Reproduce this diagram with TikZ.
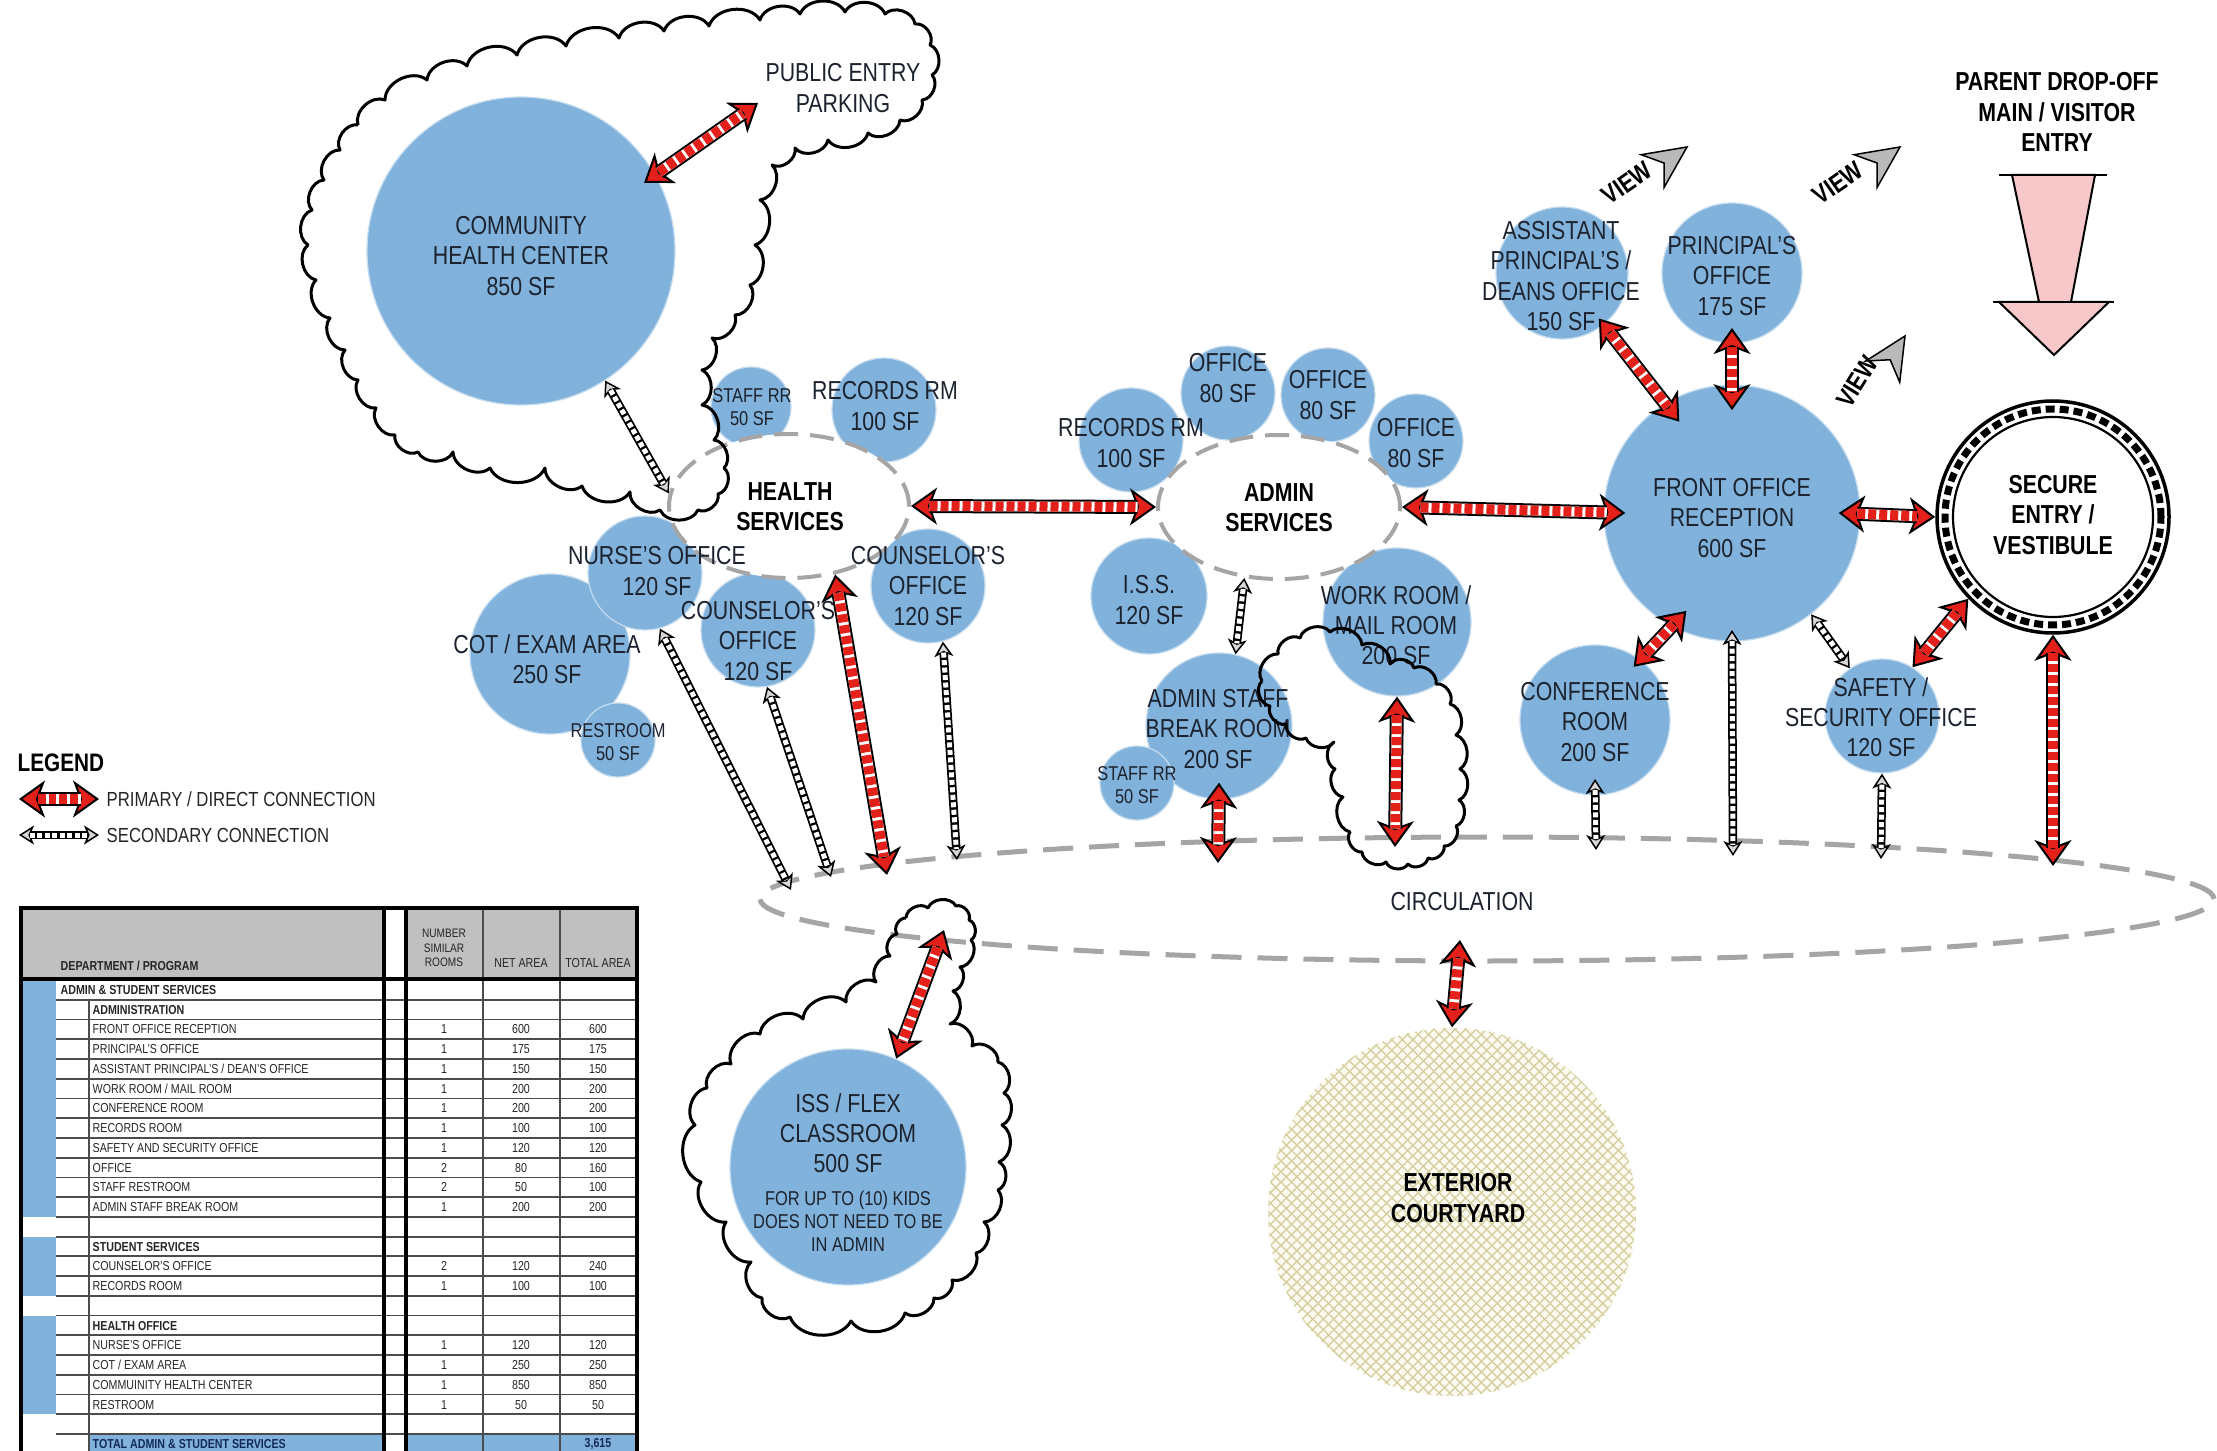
\documentclass[tikz,border=0pt]{standalone}
\usepackage{fontspec}
\setmainfont{Liberation Sans}[FakeStretch=0.82]
\usetikzlibrary{shapes.geometric,arrows.meta,patterns,calc}
\definecolor{cblue}{RGB}{128,178,220}
\definecolor{pred}{RGB}{228,32,26}
\definecolor{dgray}{RGB}{165,165,165}
\definecolor{tcol}{RGB}{28,34,46}
\definecolor{sgray}{RGB}{215,215,215}
\definecolor{hgray}{RGB}{192,192,192}
\definecolor{pinkf}{RGB}{246,200,202}
\definecolor{cream}{RGB}{252,251,242}
\definecolor{hatchc}{RGB}{214,207,160}
\definecolor{vgray}{RGB}{185,185,185}
\definecolor{navy}{RGB}{20,40,90}
\tikzset{
  ptip/.tip={Stealth[length=2.6mm,width=3.7mm,inset=0.7mm,fill=pred,line width=0.2mm]},
  stip/.tip={Stealth[length=1.5mm,width=1.9mm,inset=0.4mm,fill=sgray,line width=0.15mm]},
  room/.style={circle,fill=cblue,draw=white!55!cblue,line width=0.12mm,inner sep=0pt,minimum size=#1*0.2mm},
  lbl/.style={align=center,text=tcol,inner sep=0pt,font=\fontsize{7.4}{8.6}\selectfont},
  sml/.style={align=center,text=tcol,inner sep=0pt,font=\fontsize{5.7}{6.5}\selectfont},
  bld/.style={align=center,text=black,inner sep=0pt,font=\bfseries\fontsize{7.4}{8.6}\selectfont},
  zone/.style={ellipse,fill=white,draw=dgray,line width=0.4mm,dash pattern=on 2.4mm off 1.2mm,inner sep=0pt},
  cloudln/.style={draw=black,line width=0.3mm,line join=round},
  tcell/.style={inner sep=0pt,text=black!85,font=\fontsize{3.7}{4.1}\selectfont},
  tline/.style={draw=black!70,line width=0.18mm},
  tthick/.style={draw=black,line width=0.38mm},
}
\newcommand\pconn[2]{%
  \draw[black,line width=0.2mm,-ptip] ($#1!2.6mm!#2$) -- #1;
  \draw[black,line width=0.2mm,-ptip] ($#2!2.6mm!#1$) -- #2;
  \draw[black,line width=1.4mm,shorten <=1.85mm,shorten >=1.85mm] #1 -- #2;
  \draw[white,line width=1.0mm,shorten <=1.85mm,shorten >=1.85mm] #1 -- #2;
  \draw[pred,line width=1.0mm,dash pattern=on 0.8mm off 0.3mm,shorten <=1.85mm,shorten >=1.85mm] #1 -- #2;
}
\newcommand\sconn[2]{%
  \draw[black,line width=0.15mm,-stip] ($#1!1.5mm!#2$) -- #1;
  \draw[black,line width=0.15mm,-stip] ($#2!1.5mm!#1$) -- #2;
  \draw[black,line width=0.85mm,shorten <=1.1mm,shorten >=1.1mm] #1 -- #2;
  \draw[white,line width=0.5mm,dash pattern=on 0.5mm off 0.25mm,shorten <=1.1mm,shorten >=1.1mm] #1 -- #2;
}
\newcommand\trow[5]{%
  \node[tcell,anchor=west] (tr#1) at (92,{990+19.74*#1}) {#2};
  \node[tcell] (tn#1) at (444,{990+19.74*#1}) {#3};
  \node[tcell] (ta#1) at (521,{990+19.74*#1}) {#4};
  \node[tcell] (tt#1) at (598,{990+19.74*#1}) {#5};
}
\newcommand\viewarrow[3]{%
  \begin{scope}[shift={(#1,#2)},rotate=#3]
    \filldraw[fill=vgray,draw=black,line width=0.15mm] (0,0) -- (-42,-20) -- (-28,0) -- (-42,20) -- cycle;
  \end{scope}}
\begin{document}
\begin{tikzpicture}[x=0.1mm,y=-0.1mm]
\fill[white] (0,0) rectangle (2217,1451);
\useasboundingbox (0,0) rectangle (2217,1451);

% courtyard
\node[circle,minimum size=36.8mm,inner sep=0pt,fill=cream] (ct) at (1452,1212) {};
\fill[pattern=north east lines,pattern color=hatchc] (ct.center) circle[radius=18.4mm];
\fill[pattern=north west lines,pattern color=hatchc] (ct.center) circle[radius=18.4mm];

% rooms
\node[room=154] (chc) at (521,251) {};
\node[room=40] (hsrr) at (751,407) {};
\node[room=52] (hsrec) at (884,410) {};
\node[room=80] (cot) at (550,654) {};
\node[room=57] (nurse) at (645,573) {};
\node[room=37] (rest) at (618,740) {};
\node[room=57] (cns1) at (758,630) {};
\node[room=57] (cns2) at (928,586) {};
\node[room=52] (arec) at (1131,440) {};
\node[room=47] (off1) at (1228,393) {};
\node[room=47] (off2) at (1328,395) {};
\node[room=47] (off3) at (1416,441) {};
\node[room=58] (iss) at (1149,596) {};
\node[room=74] (wr) at (1397,622) {};
\node[room=73] (br) at (1219,726) {};
\node[room=37] (arr) at (1137,783) {};
\node[room=128] (fo) at (1732,513) {};
\node[room=70] (pr) at (1732,273) {};
\node[room=66] (ap) at (1562,273) {};
\node[room=75] (cr) at (1595,720) {};
\node[room=57] (ss) at (1882,716) {};
\node[room=118] (flex) at (848,1167) {};

% zones
\node[zone,minimum width=24.0mm,minimum height=14.4mm] (hs) at (789,506) {};
\node[zone,minimum width=24.2mm,minimum height=14.4mm] (as) at (1279,507) {};
\node[ellipse,draw=dgray,line width=0.5mm,dash pattern=on 3mm off 1.6mm,inner sep=0pt,minimum width=145.4mm,minimum height=12.4mm] (circ) at (1487,899) {};

% secure entry
\node[circle,fill=white,draw=black,line width=0.35mm,minimum size=23.2mm,inner sep=0pt] (se) at (2053,517) {};
\draw[black,line width=0.7mm,dash pattern=on 0.9mm off 0.5mm] (se.center) circle[radius=10.8mm];
\draw[black,line width=0.22mm] (se.center) circle[radius=10.0mm];

% labels
\node[lbl] (chct) at (521,256) {COMMUNITY\\HEALTH CENTER\\850 SF};
\node[lbl] (parkt) at (843,88) {PUBLIC ENTRY\\PARKING};
\node[sml] (hsrrt) at (752,407) {STAFF RR\\50 SF};
\node[lbl] (hsrect) at (885,406) {RECORDS RM\\100 SF};
\node[bld] (hst) at (790,507) {HEALTH\\SERVICES};
\node[lbl] (nurset) at (657,571) {NURSE'S OFFICE\\120 SF};
\node[lbl] (cott) at (547,659) {COT / EXAM AREA\\250 SF};
\node[sml] (restt) at (618,742) {RESTROOM\\50 SF};
\node[lbl] (cns1t) at (758,641) {COUNSELOR'S\\OFFICE\\120 SF};
\node[lbl] (cns2t) at (928,586) {COUNSELOR'S\\OFFICE\\120 SF};
\node[lbl] (arect) at (1131,443) {RECORDS RM\\100 SF};
\node[lbl] (off1t) at (1228,378) {OFFICE\\80 SF};
\node[lbl] (off2t) at (1328,395) {OFFICE\\80 SF};
\node[lbl] (off3t) at (1416,443) {OFFICE\\80 SF};
\node[bld] (ast) at (1279,508) {ADMIN\\SERVICES};
\node[lbl] (isst) at (1149,600) {I.S.S.\\120 SF};
\node[lbl] (wrt) at (1396,625) {WORK ROOM /\\MAIL ROOM\\200 SF};
\node[lbl] (brt) at (1218,729) {ADMIN STAFF\\BREAK ROOM\\200 SF};
\node[sml] (arrt) at (1137,785) {STAFF RR\\50 SF};
\node[lbl] (fot) at (1732,518) {FRONT OFFICE\\RECEPTION\\600 SF};
\node[lbl] (prt) at (1732,276) {PRINCIPAL'S\\OFFICE\\175 SF};
\node[lbl] (apt) at (1561,276) {ASSISTANT\\PRINCIPAL'S /\\DEANS OFFICE\\150 SF};
\node[lbl] (crt) at (1595,722) {CONFERENCE\\ROOM\\200 SF};
\node[lbl] (sst) at (1881,717) {SAFETY /\\SECURITY OFFICE\\120 SF};
\node[bld] (set) at (2053,515) {SECURE\\ENTRY /\\VESTIBULE};
\node[bld] (pdt) at (2057,112) {PARENT DROP-OFF\\MAIN / VISITOR\\ENTRY};
\node[lbl] (circt) at (1462,902) {CIRCULATION};
\node[bld] (ctt) at (1458,1198) {EXTERIOR\\COURTYARD};
\node[lbl] (flext) at (848,1133) {ISS / FLEX\\CLASSROOM\\500 SF};
\node[sml] (flexn) at (848,1221) {FOR UP TO (10) KIDS\\DOES NOT NEED TO BE\\IN ADMIN};

% clouds (scalloped outlines)
\draw[cloudln] (358,125) \foreach \px/\py in {385/100,427/80,467/66,517/55,566/46,619/38,664/31,709/26,760/20,800/14,845/12,885/14,915/24,930/45,932/75,922/100,900/120,868/133,828/140,795/148,772/165,760/200,755/245,750/285,735/315,712/338,702/370,702/405,714/440,724/468,718/494,698/510,660/510,630/492,582/486,545/468,490/468,453/452,418/452,395/435,376/408,358/380,345/350,330/318,316/280,308/245,312/210,324/180,340/150,358/125} { to[bend left=65] (\px,\py) };
\draw[cloudln] (1262,681) \foreach \px/\py in {1278/654,1300/638,1330/632,1362/645,1390/664,1414/668,1436/684,1450/704,1456/735,1460/769,1459/800,1456/826,1444/846,1428/858,1408/864,1386/862,1362/852,1350/832,1343/797,1335/769,1334/742,1306/738,1286/724,1270/706,1262/681} { to[bend left=65] (\px,\py) };
\draw[cloudln] (906,918) \foreach \px/\py in {928/908,956/906,969/920,971/940,960/967,953/991,950/1024,972/1046,998/1062,1004/1093,1002/1125,999/1162,998/1190,984/1222,976/1253,952/1280,934/1298,905/1313,851/1321,790/1317,762/1298,751/1262,726/1222,701/1182,695/1125,707/1088,731/1064,760/1034,803/1019,846/1002,876/982,890/956,897/934,906/918} { to[bend left=65] (\px,\py) };

% free ends
\coordinate (parkc) at (758,103);
\coordinate (c1) at (791,890);
\coordinate (c2) at (831,877);
\coordinate (c3) at (887,875);
\coordinate (c4) at (957,860);
\coordinate (c5) at (1218,863);
\coordinate (c6) at (1395,847);
\coordinate (c7) at (1596,850);
\coordinate (c8) at (1733,856);
\coordinate (c9) at (1881,859);
\coordinate (c10) at (2053,866);
\coordinate (c11) at (1460,940);
\coordinate (isstop) at (944,930);

% secondary connections
\sconn{(chc.-57)}{(hs.174)}
\sconn{(nurse.-75)}{(c1)}
\sconn{(cns1.-81)}{(c2)}
\sconn{(cns2.-75)}{(c4)}
\sconn{(as.-116)}{(br.77)}
\sconn{($(cr.center)!0.78!(cr.south)$)}{(c7)}
\sconn{($(fo.center)!0.91!(fo.south)$)}{(c8)}
\sconn{(fo.-52)}{(ss.124)}
\sconn{(ss.-90)}{(c9)}

% primary connections
\pconn{($(chc.center)!0.91!(chc.29)$)}{(parkc)}
\pconn{(hs.east)}{(as.west)}
\pconn{(as.east)}{($(fo.center)!0.83!(fo.west)$)}
\pconn{($(fo.center)!0.83!(fo.east)$)}{(se.west)}
\pconn{($(ap.center)!0.88!(ap.-51)$)}{($(fo.center)!0.82!(fo.120)$)}
\pconn{($(pr.center)!0.78!(pr.south)$)}{($(fo.center)!0.8!(fo.north)$)}
\pconn{($(cr.center)!0.87!(cr.54)$)}{($(fo.center)!0.84!(fo.-115)$)}
\pconn{(ss.58)}{(se.-136)}
\pconn{(se.-90)}{(c10)}
\pconn{(hs.-56)}{(c3)}
\pconn{($(br.center)!0.77!(br.south)$)}{(c5)}
\pconn{(wr.-90)}{(c6)}
\pconn{(c11)}{(ct.90)}
\pconn{(isstop)}{(flex.66)}

% view arrows
\viewarrow{1687}{147}{35}
\viewarrow{1900}{147}{35}
\viewarrow{1905}{336}{58}
\node[bld,rotate=35] (v1) at (1627,183) {VIEW};
\node[bld,rotate=35] (v2) at (1838,183) {VIEW};
\node[bld,rotate=58] (v3) at (1857,382) {VIEW};

% drop-off arrow
\filldraw[fill=pinkf,draw=black,line width=0.2mm] (2012,175) -- (2039,302) -- (1999,302) -- (2054,355) -- (2109,302) -- (2071,302) -- (2095,175) -- cycle;
\draw[line width=0.2mm] (1999,175) -- (2107,175);
\draw[line width=0.2mm] (1993,302) -- (2114,302);

% legend
\node[anchor=west,inner sep=0pt,font=\bfseries\fontsize{7.2}{8}\selectfont] (leg) at (17,763) {LEGEND};
\coordinate (lp1) at (19,799);
\coordinate (lp2) at (99,799);
\coordinate (ls1) at (19,835);
\coordinate (ls2) at (99,835);
\pconn{(lp1)}{(lp2)}
\sconn{(ls1)}{(ls2)}
\node[anchor=west,inner sep=0pt,text=black!85,font=\fontsize{5.8}{6.5}\selectfont] (legp) at (106,799) {PRIMARY / DIRECT CONNECTION};
\node[anchor=west,inner sep=0pt,text=black!85,font=\fontsize{5.8}{6.5}\selectfont] (legs) at (106,835) {SECONDARY CONNECTION};

% table
\fill[hgray] (21,908) rectangle (384,979);
\fill[hgray] (406,908) rectangle (637,979);
\fill[cblue] (21,980) rectangle (56,1216.9);
\fill[cblue] (21,1236.6) rectangle (56,1295.8);
\fill[cblue] (21,1315.6) rectangle (56,1414.3);
\fill[cblue] (89,1434) rectangle (384,1460);
\fill[cblue] (406,1434) rectangle (637,1460);
\foreach \i in {1,...,23} \draw[tline] (56,{980+\i*19.74}) -- (637,{980+\i*19.74});
\draw[tline] (89,999.7) -- (89,1460);
\draw[tline] (483,908) -- (483,1460);
\draw[tline] (560,908) -- (560,1460);
\draw[tthick] (384,908) -- (384,1460);
\draw[tthick] (406,908) -- (406,1460);
\draw[tthick] (21,1460) -- (21,908) -- (637,908) -- (637,1460);
\draw[tthick] (21,979) -- (637,979);
\node[tcell,anchor=west,font=\bfseries\fontsize{3.7}{4.1}\selectfont] (thd) at (60,966) {DEPARTMENT / PROGRAM};
\node[tcell,align=center,font=\fontsize{3.5}{4.1}\selectfont] (thn) at (444,948) {NUMBER\\SIMILAR\\ROOMS};
\node[tcell] (tha) at (521,963) {NET AREA};
\node[tcell] (tht) at (598,963) {TOTAL AREA};
\node[tcell,anchor=west,font=\bfseries\fontsize{3.7}{4.1}\selectfont] (tr0) at (60,990) {ADMIN \& STUDENT SERVICES};
\node[tcell,anchor=west,font=\bfseries\fontsize{3.7}{4.1}\selectfont] (tr1) at (92,{990+19.74}) {ADMINISTRATION};
\trow{2}{FRONT OFFICE RECEPTION}{1}{600}{600}
\trow{3}{PRINCIPAL'S OFFICE}{1}{175}{175}
\trow{4}{ASSISTANT PRINCIPAL'S / DEAN'S OFFICE}{1}{150}{150}
\trow{5}{WORK ROOM / MAIL ROOM}{1}{200}{200}
\trow{6}{CONFERENCE ROOM}{1}{200}{200}
\trow{7}{RECORDS ROOM}{1}{100}{100}
\trow{8}{SAFETY AND SECURITY OFFICE}{1}{120}{120}
\trow{9}{OFFICE}{2}{80}{160}
\trow{10}{STAFF RESTROOM}{2}{50}{100}
\trow{11}{ADMIN STAFF BREAK ROOM}{1}{200}{200}
\node[tcell,anchor=west,font=\bfseries\fontsize{3.7}{4.1}\selectfont] (tr13) at (92,{990+19.74*13}) {STUDENT SERVICES};
\trow{14}{COUNSELOR'S OFFICE}{2}{120}{240}
\trow{15}{RECORDS ROOM}{1}{100}{100}
\node[tcell,anchor=west,font=\bfseries\fontsize{3.7}{4.1}\selectfont] (tr17) at (92,{990+19.74*17}) {HEALTH OFFICE};
\trow{18}{NURSE'S OFFICE}{1}{120}{120}
\trow{19}{COT / EXAM AREA}{1}{250}{250}
\trow{20}{COMMUINITY HEALTH CENTER}{1}{850}{850}
\trow{21}{RESTROOM}{1}{50}{50}
\node[tcell,anchor=west,text=navy,font=\bfseries\fontsize{3.7}{4.1}\selectfont] (tr23) at (92,{990+19.74*23}) {TOTAL ADMIN \& STUDENT SERVICES};
\node[tcell,text=navy,font=\bfseries\fontsize{3.7}{4.1}\selectfont] (tt23) at (598,{990+19.74*23}) {3,615};
\end{tikzpicture}
\end{document}
